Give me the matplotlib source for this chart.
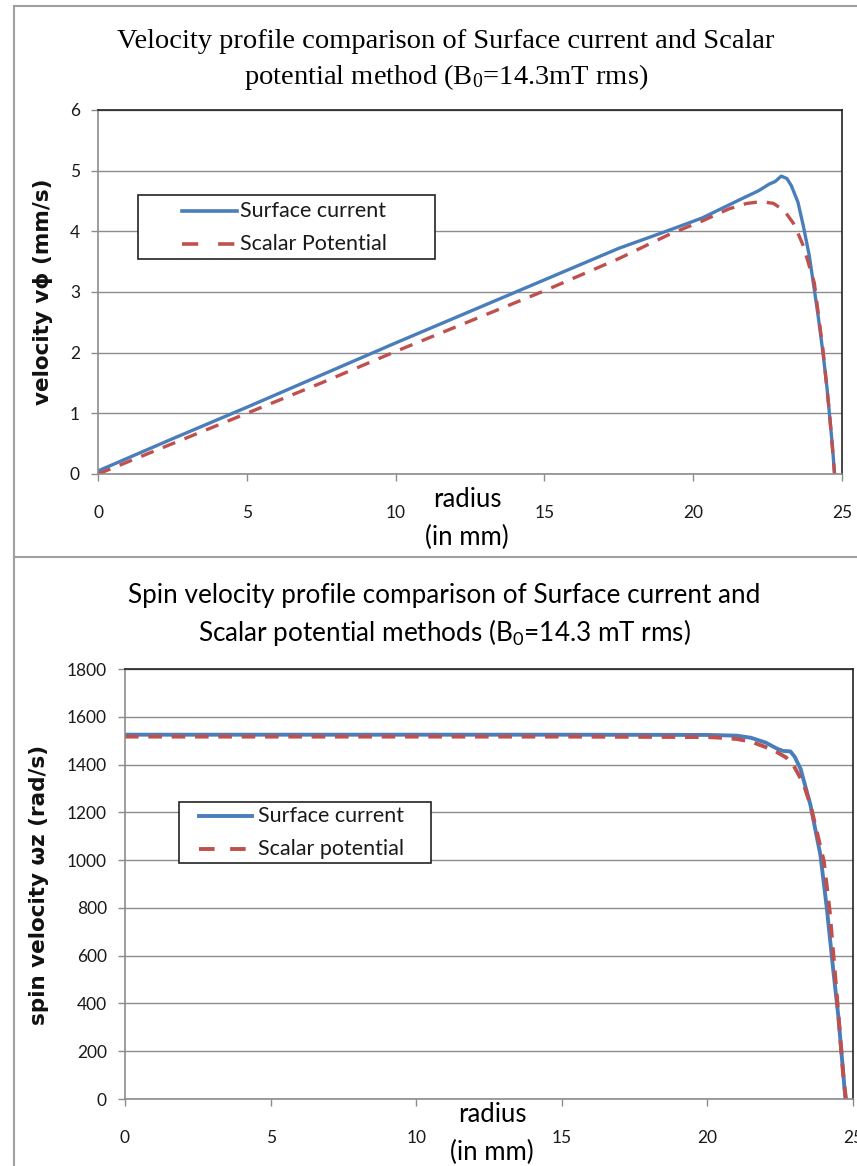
import matplotlib
matplotlib.use("Agg")
import matplotlib.pyplot as plt
from matplotlib.lines import Line2D
from matplotlib.patches import Rectangle

# top chart: azimuthal velocity (mm/s) vs radius (mm)
r_surf_v = [0, 2.5, 5, 7.5, 10, 12.5, 15, 17.5, 19.2, 20.3, 21.6, 22.2, 22.56, 22.75,
            22.96, 23.15, 23.3, 23.52, 23.7, 23.9, 24.07, 24.2, 24.36, 24.5, 24.58, 24.68, 24.75]
v_surf = [0.05, 0.58, 1.1, 1.63, 2.16, 2.68, 3.2, 3.72, 4.02, 4.22, 4.53, 4.67, 4.78, 4.82,
          4.91, 4.87, 4.75, 4.48, 4.09, 3.6, 3.04, 2.6, 2.0, 1.4, 0.98, 0.45, 0.0]
r_scal_v = [0, 2.5, 5, 7.5, 10, 12.5, 15, 17.5, 19.2, 20.3, 21.2, 21.8, 22.3, 22.7,
            23.06, 23.4, 23.7, 24.07, 24.36, 24.58, 24.75]
v_scal = [0.0, 0.5, 1.0, 1.5, 2.02, 2.52, 3.02, 3.55, 3.95, 4.17, 4.37, 4.46, 4.49, 4.46,
          4.34, 4.11, 3.76, 3.15, 2.05, 1.0, 0.0]

# bottom chart: spin velocity (rad/s) vs radius (mm)
r_surf_w = [0, 5, 10, 15, 20, 21, 21.5, 22, 22.4, 22.6, 22.85, 23.0, 23.2, 23.54,
            23.88, 24.1, 24.3, 24.5, 24.74]
w_surf = [1525, 1525, 1525, 1525, 1524, 1521, 1512, 1492, 1466, 1457, 1455, 1432, 1382, 1230,
          1022, 800, 565, 342, 0]
r_scal_w = [0, 5, 10, 15, 20, 20.5, 21, 21.5, 22, 22.4, 22.7, 22.96, 23.3, 23.54,
            24.0, 24.2, 24.45, 24.68, 24.76]
w_scal = [1517, 1517, 1517, 1517, 1515, 1512, 1507, 1496, 1473, 1451, 1430, 1396, 1320, 1230,
          994, 786, 425, 79, 0]

top_labels = ["Surface current", "Scalar Potential"]
bottom_labels = ["Surface current", "Scalar potential"]

BLUE = "#4a7ebb"
RED = "#c0504d"
SANS = ["Lato", "DejaVu Sans"]
SERIF = ["Liberation Serif", "DejaVu Serif"]

W, H = 857, 1166
fig = plt.figure(figsize=(W / 100, H / 100), dpi=100)


def fx(px):
    return px / W


def fy(py):
    # pixel row measured from the top -> figure fraction
    return 1 - py / H


def style_axes(ax, ymax, ystep):
    ax.set_xlim(0, 25)
    ax.set_ylim(0, ymax)
    ax.set_xticks(range(0, 26, 5))
    ax.set_yticks(range(0, ymax + 1, ystep))
    ax.grid(axis="y", color="#8c8c8c", lw=1.0)
    ax.set_axisbelow(True)
    for s in ("left", "bottom"):
        ax.spines[s].set_color("#8c8c8c")
        ax.spines[s].set_linewidth(1.2)
    for s in ("top", "right"):
        ax.spines[s].set_color("#222222")
        ax.spines[s].set_linewidth(1.2)
    ax.tick_params(direction="out", length=5, width=1, color="#8c8c8c",
                   labelsize=12.5, labelcolor="#1a1a1a", pad=8)
    ax.tick_params(axis="x", pad=17)
    for lab in ax.get_xticklabels() + ax.get_yticklabels():
        lab.set_family(SANS)


def draw_legend(box, handle_x, rows_y, text_x, labels, dash, lw):
    # Excel-style legend box placed in figure pixels
    x0, y0, x1, y1 = box
    fig.add_artist(Rectangle((fx(x0), fy(y1)), fx(x1 - x0), (y1 - y0) / H,
                             transform=fig.transFigure, facecolor="white",
                             edgecolor="#222222", lw=1.2, zorder=5))
    styles = [dict(color=BLUE, ls="-"), dict(color=RED, ls=dash)]
    for lab, yy, st in zip(labels, rows_y, styles):
        fig.add_artist(Line2D([fx(handle_x[0]), fx(handle_x[1])], [fy(yy), fy(yy)],
                              lw=lw, zorder=6, **st))
        fig.text(fx(text_x), fy(yy), lab, ha="left", va="center", fontsize=15.5,
                 family=SANS, color="#1a1a1a", zorder=6)


# chart area borders
fig.add_artist(Line2D([fx(14), fx(14)], [0, fy(6)], color="#a0a0a0", lw=1.5))
fig.add_artist(Line2D([fx(14), 1], [fy(6), fy(6)], color="#a0a0a0", lw=1.5))
fig.add_artist(Line2D([fx(14), 1], [fy(557), fy(557)], color="#a0a0a0", lw=1.5))

# ---- top chart ----
ax1 = fig.add_axes([fx(98), fy(474), fx(744), 364 / H])
ax1.plot(r_surf_v, v_surf, color=BLUE, lw=2.4)
ax1.plot(r_scal_v, v_scal, color=RED, lw=2.4, ls=(0, (4, 3)))
style_axes(ax1, 6, 1)
draw_legend((138, 195, 435, 259), (182, 237), (211, 244), 240, top_labels, (0, (4.5, 5.5)), 2.6)
fig.text(fx(467), fy(500), "radius", ha="center", va="center", fontsize=18.5, family=SANS)
fig.text(fx(467), fy(537), "(in mm)", ha="center", va="center", fontsize=18.5, family=SANS)
fig.text(fx(43), fy(292), "velocity v\u03d5 (mm/s)", rotation=90, ha="center",
         va="center", fontsize=15.5, fontweight="bold", family=["DejaVu Sans"],
         color="#111111")
fig.text(fx(446), fy(42), "Velocity profile comparison of Surface current and Scalar",
         ha="center", va="center", fontsize=20.5, family=SERIF)
fig.text(fx(446), fy(77), r"potential method (B$\mathregular{_0}$=14.3mT rms)",
         ha="center", va="center", fontsize=20.5, family=SERIF)

# ---- bottom chart ----
ax2 = fig.add_axes([fx(125), fy(1099), fx(728), 430 / H])
ax2.plot(r_surf_w, w_surf, color=BLUE, lw=2.8)
ax2.plot(r_scal_w, w_scal, color=RED, lw=2.8, ls=(0, (3.5, 2.5)))
style_axes(ax2, 1800, 200)
draw_legend((179, 802, 431, 863), (199, 252), (816, 849), 258, bottom_labels, (0, (4, 4)), 2.8)
fig.text(fx(492), fy(1115), "radius", ha="center", va="center", fontsize=18.5, family=SANS)
fig.text(fx(492), fy(1152), "(in mm)", ha="center", va="center", fontsize=18.5, family=SANS)
fig.text(fx(39), fy(885), "spin velocity \u03c9z (rad/s)", rotation=90, ha="center",
         va="center", fontsize=15.5, fontweight="bold", family=["DejaVu Sans"],
         color="#111111")
fig.text(fx(444), fy(595), "Spin velocity profile comparison of Surface current and",
         ha="center", va="center", fontsize=18.8, family=SANS)
fig.text(fx(444), fy(632), r"Scalar potential methods (B$\mathregular{_0}$=14.3 mT rms)",
         ha="center", va="center", fontsize=18.8, family=SANS)

fig.savefig("out.png", dpi=100)
